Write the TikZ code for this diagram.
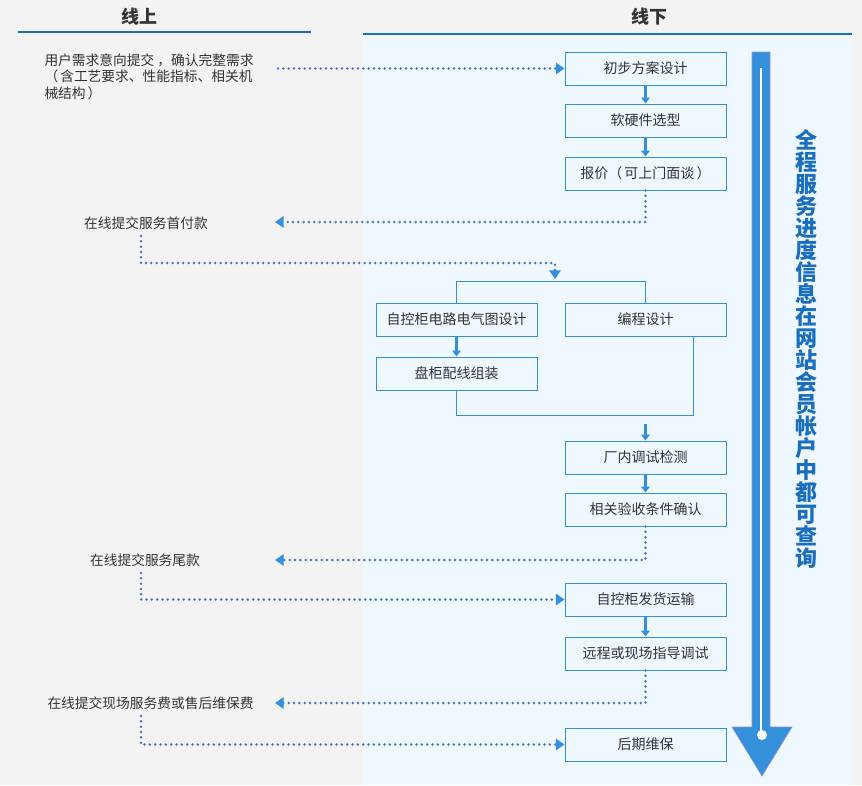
\documentclass[tikz,border=0pt]{standalone}
\usepackage{fontspec}
\setmainfont{Noto Sans CJK SC}
\usetikzlibrary{arrows.meta}

\definecolor{pagegray}{RGB}{243,243,243}
\definecolor{panelblue}{RGB}{239,247,255}
\definecolor{boxblue}{RGB}{53,144,220}
\definecolor{headblue}{RGB}{20,112,196}
\definecolor{dotblue}{RGB}{74,116,200}
\definecolor{noteblue}{RGB}{26,110,190}
\definecolor{txtgray}{RGB}{51,51,51}
\definecolor{edgepurple}{RGB}{150,140,210}

\tikzset{every picture/.style={line width=0.75pt}}
\newcommand{\lpar}{（\hspace{0.15em}}
\newcommand{\rpar}{\hspace{0.15em}）}

\begin{document}
\begin{tikzpicture}[
            x=0.75pt,
            y=0.75pt,
            yscale=-1,
            xscale=1,
            every node/.style={text=txtgray},
            stepbox/.style={draw=boxblue, fill=panelblue, minimum width=120.75pt, minimum height=24.75pt, inner sep=0pt, font=\fontsize{10.5}{12}\selectfont},
            note/.style={inner sep=0pt, font=\fontsize{10.3}{12.4}\selectfont},
            head/.style={inner sep=0pt, font=\bfseries\fontsize{13.5}{15}\selectfont},
            dotline/.style={draw=dotblue, line width=2.1pt, line cap=round, dash pattern=on 0pt off 4pt},
            dotflow/.style={dotline, -{Triangle[length=6.5pt, width=8.5pt, color=boxblue]}},
            stepflow/.style={draw=boxblue, line width=2pt, -{Triangle[length=4.5pt, width=6.5pt]}},
            joinline/.style={draw=boxblue, line width=0.75pt},
            line width=0.75pt
        ]
            \useasboundingbox (0,0) rectangle (862,785);
            % backgrounds
            \fill [pagegray] (0,0) rectangle (862,785);
            \fill [panelblue] (363,35) rectangle (852,785);
            \draw [headblue, line width=1.2pt] (18,32) -- (311,32);
            \draw [headblue, line width=1.2pt] (363,34) -- (852,34);

            \node [head] (online) at (139,17) {线上};
            \node [head] (offline) at (649,17) {线下};

            % offline steps
            \node [stepbox] (b1) at (645.5,68.5) {初步方案设计};
            \node [stepbox] (b2) at (645.5,120.5) {软硬件选型};
            \node [stepbox] (b3) at (645.5,173.5) {报价\lpar 可上门面谈\rpar};
            \node [stepbox] (b4) at (456.5,319.5) {自控柜电路电气图设计};
            \node [stepbox] (b5) at (645.5,319.5) {编程设计};
            \node [stepbox] (b6) at (456.5,373.5) {盘柜配线组装};
            \node [stepbox] (b7) at (645.5,457.5) {厂内调试检测};
            \node [stepbox] (b8) at (645.5,509.5) {相关验收条件确认};
            \node [stepbox] (b9) at (645.5,599.5) {自控柜发货运输};
            \node [stepbox] (b10) at (645.5,653.5) {远程或现场指导调试};
            \node [stepbox] (b11) at (645.5,744.5) {后期维保};

            % online notes
            \node [note, anchor=north west, align=left] (t1) at (44,53) {用户需求意向提交 ，确认完整需求\\\lpar 含工艺要求、性能指标、相关机\\械结构\rpar};
            \node [note] (t2) at (146,223) {在线提交服务首付款};
            \node [note] (t3) at (145,560) {在线提交服务尾款};
            \node [note] (t4) at (150.5,703) {在线提交现场服务费或售后维保费};

            \coordinate (need) at (278,68.5);
            \coordinate (pay1in) at (275,222);
            \coordinate (pay1out) at (141,236);
            \coordinate (split) at (555,279);
            \coordinate (pay2in) at (275,560);
            \coordinate (pay2out) at (141,573);
            \coordinate (pay3in) at (275,703);
            \coordinate (pay3out) at (141,716);
            \coordinate (merge) at (693,415);
            \coordinate (check) at (645.5,424);

            % dotted hand-overs
            \draw [dotflow] (need) -- (b1.west);
            \draw [dotflow] (b3.south) |- (pay1in);
            \draw [dotflow] (pay1out) -- ++(0,27) -| (split);
            \draw [dotflow] (b8.south) |- (pay2in);
            \draw [dotflow] (pay2out) |- (b9.west);
            \draw [dotflow] (b10.south) |- (pay3in);
            \draw [dotflow] (pay3out) |- (b11.west);

            % step arrows
            \draw [stepflow] (b1) -- (b2);
            \draw [stepflow] (b2) -- (b3);
            \draw [stepflow] (b4) -- (b6);
            \draw [stepflow] (check) -- (b7.north);
            \draw [stepflow] (b7) -- (b8);
            \draw [stepflow] (b9) -- (b10);

            % fork and join
            \draw [joinline] (b4.north) -- ++(0,-21) -| (b5.north);
            \draw [joinline] (b6.south) |- (merge) -- (merge |- b5.south);

            % progress arrow
            \draw [fill=boxblue, draw=edgepurple, line width=0.4pt] (752,52) -- (770,52) -- (770,727) -- (792,727) -- (762,776) -- (732,727) -- (752,727) -- cycle;
            \draw [white, line width=2.2pt] (761,68) -- (761,735);
            \fill [white] (762,735) circle (5);
            \node [text=noteblue, align=center, inner sep=0pt, font=\bfseries\fontsize{16.5}{16.5}\selectfont] (progress) at (806,349) {全\\程\\服\\务\\进\\度\\信\\息\\在\\网\\站\\会\\员\\帐\\户\\中\\都\\可\\查\\询};
        \end{tikzpicture}
\end{document}
